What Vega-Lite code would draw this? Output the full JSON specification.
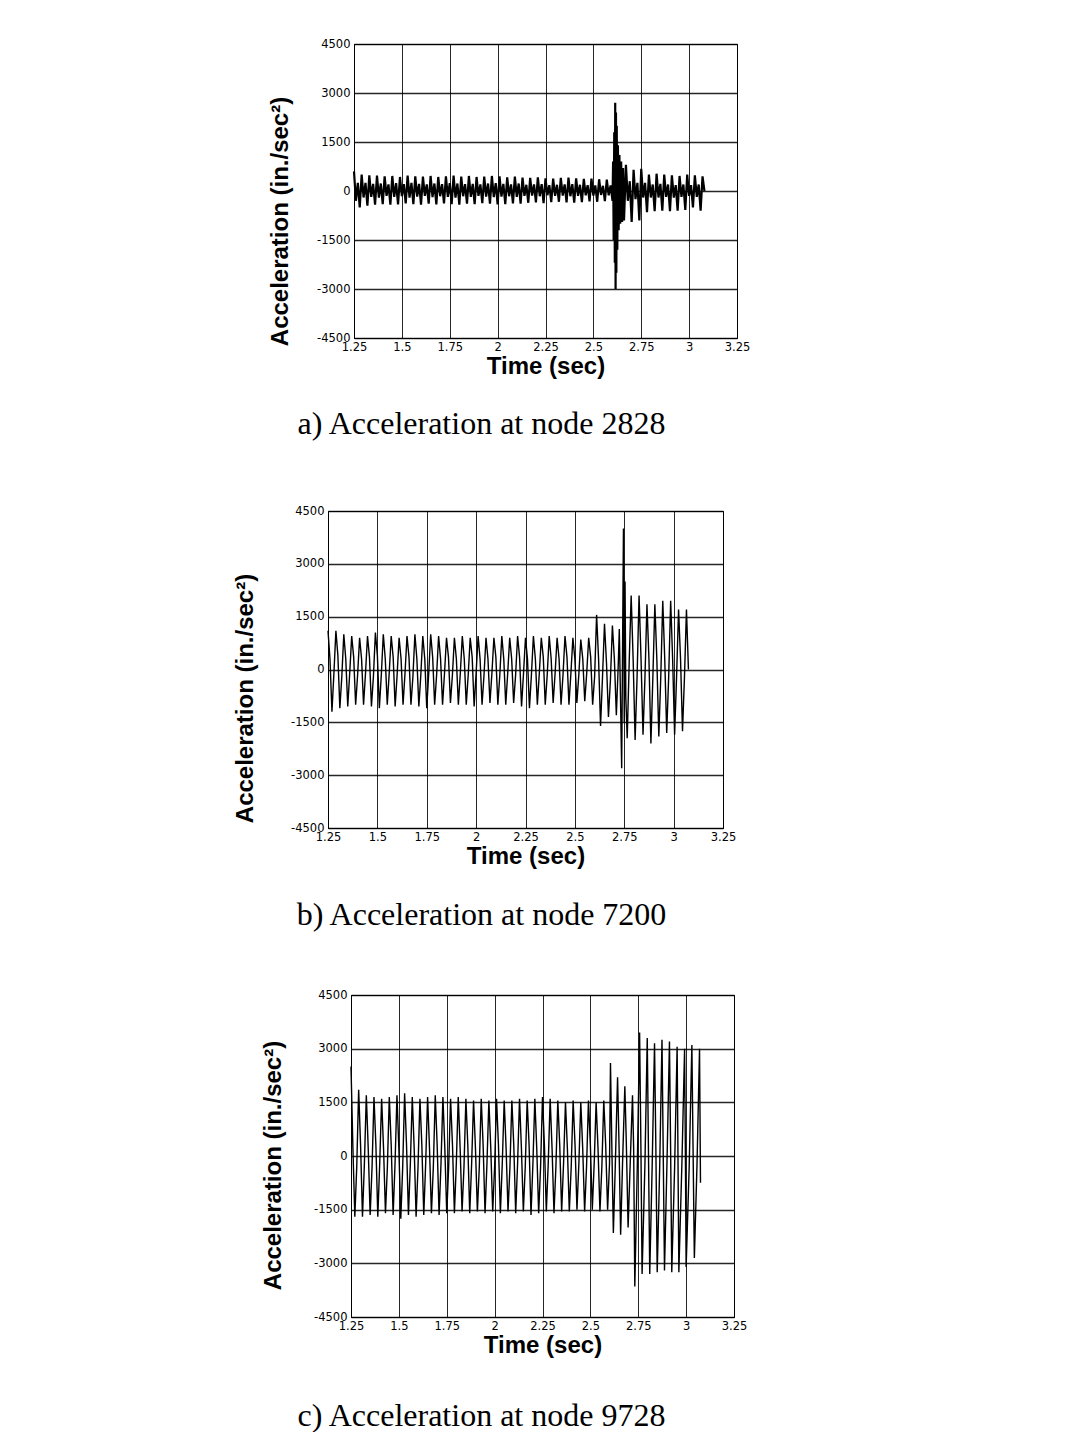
{
"$schema": "https://vega.github.io/schema/vega-lite/v6.json",
"background": "white",
"padding": {"left": 0, "top": 37, "right": 0, "bottom": 0},
"spacing": 57,
"datasets": {
"a": [
{"t":1.25,"v":600},{"t":1.26,"v":-300},{"t":1.27,"v":250},{"t":1.28,"v":-500},
{"t":1.29,"v":500},{"t":1.30,"v":-200},{"t":1.31,"v":250},{"t":1.32,"v":-450},
{"t":1.33,"v":480},{"t":1.34,"v":-180},{"t":1.35,"v":220},{"t":1.36,"v":-420},
{"t":1.37,"v":470},{"t":1.38,"v":-200},{"t":1.39,"v":230},{"t":1.40,"v":-400},
{"t":1.41,"v":450},{"t":1.42,"v":-150},{"t":1.43,"v":200},{"t":1.44,"v":-420},
{"t":1.45,"v":460},{"t":1.46,"v":-180},{"t":1.47,"v":240},{"t":1.48,"v":-410},
{"t":1.49,"v":430},{"t":1.50,"v":-160},{"t":1.51,"v":210},{"t":1.52,"v":-380},
{"t":1.53,"v":470},{"t":1.54,"v":-200},{"t":1.55,"v":250},{"t":1.56,"v":-400},
{"t":1.57,"v":450},{"t":1.58,"v":-170},{"t":1.59,"v":220},{"t":1.60,"v":-420},
{"t":1.61,"v":440},{"t":1.62,"v":-150},{"t":1.63,"v":200},{"t":1.64,"v":-390},
{"t":1.65,"v":460},{"t":1.66,"v":-190},{"t":1.67,"v":230},{"t":1.68,"v":-410},
{"t":1.69,"v":430},{"t":1.70,"v":-160},{"t":1.71,"v":210},{"t":1.72,"v":-380},
{"t":1.73,"v":450},{"t":1.74,"v":-180},{"t":1.75,"v":240},{"t":1.76,"v":-400},
{"t":1.77,"v":470},{"t":1.78,"v":-200},{"t":1.79,"v":230},{"t":1.80,"v":-420},
{"t":1.81,"v":440},{"t":1.82,"v":-160},{"t":1.83,"v":210},{"t":1.84,"v":-390},
{"t":1.85,"v":460},{"t":1.86,"v":-180},{"t":1.87,"v":220},{"t":1.88,"v":-400},
{"t":1.89,"v":430},{"t":1.90,"v":-150},{"t":1.91,"v":200},{"t":1.92,"v":-370},
{"t":1.93,"v":440},{"t":1.94,"v":-170},{"t":1.95,"v":230},{"t":1.96,"v":-390},
{"t":1.97,"v":460},{"t":1.98,"v":-190},{"t":1.99,"v":240},{"t":2.00,"v":-410},
{"t":2.01,"v":450},{"t":2.02,"v":-170},{"t":2.03,"v":220},{"t":2.04,"v":-400},
{"t":2.05,"v":420},{"t":2.06,"v":-160},{"t":2.07,"v":200},{"t":2.08,"v":-380},
{"t":2.09,"v":440},{"t":2.10,"v":-180},{"t":2.11,"v":230},{"t":2.12,"v":-390},
{"t":2.13,"v":410},{"t":2.14,"v":-150},{"t":2.15,"v":190},{"t":2.16,"v":-360},
{"t":2.17,"v":400},{"t":2.18,"v":-140},{"t":2.19,"v":200},{"t":2.20,"v":-350},
{"t":2.21,"v":420},{"t":2.22,"v":-160},{"t":2.23,"v":210},{"t":2.24,"v":-370},
{"t":2.25,"v":390},{"t":2.26,"v":-130},{"t":2.27,"v":180},{"t":2.28,"v":-340},
{"t":2.29,"v":380},{"t":2.30,"v":-150},{"t":2.31,"v":190},{"t":2.32,"v":-330},
{"t":2.33,"v":400},{"t":2.34,"v":-140},{"t":2.35,"v":200},{"t":2.36,"v":-350},
{"t":2.37,"v":410},{"t":2.38,"v":-160},{"t":2.39,"v":210},{"t":2.40,"v":-360},
{"t":2.41,"v":390},{"t":2.42,"v":-150},{"t":2.43,"v":190},{"t":2.44,"v":-340},
{"t":2.45,"v":370},{"t":2.46,"v":-130},{"t":2.47,"v":180},{"t":2.48,"v":-320},
{"t":2.49,"v":380},{"t":2.50,"v":-140},{"t":2.51,"v":170},{"t":2.52,"v":-330},
{"t":2.53,"v":360},{"t":2.54,"v":-120},{"t":2.55,"v":160},{"t":2.56,"v":-310},
{"t":2.57,"v":350},{"t":2.58,"v":-130},{"t":2.59,"v":170},{"t":2.60,"v":-300},
{"t":2.603,"v":900},{"t":2.606,"v":-1500},{"t":2.609,"v":1800},{"t":2.612,"v":-2200},
{"t":2.614,"v":2700},{"t":2.616,"v":-3000},{"t":2.618,"v":2400},{"t":2.620,"v":-2500},
{"t":2.622,"v":2000},{"t":2.625,"v":-1800},{"t":2.628,"v":1400},{"t":2.632,"v":-1200},
{"t":2.636,"v":1100},{"t":2.640,"v":-1000},{"t":2.645,"v":900},{"t":2.650,"v":-950},
{"t":2.655,"v":700},{"t":2.660,"v":-900},
{"t":2.67,"v":800},{"t":2.68,"v":-300},{"t":2.69,"v":300},{"t":2.70,"v":-950},
{"t":2.71,"v":650},{"t":2.72,"v":-250},{"t":2.73,"v":250},{"t":2.74,"v":-900},
{"t":2.75,"v":680},{"t":2.76,"v":-200},{"t":2.77,"v":250},{"t":2.78,"v":-650},
{"t":2.79,"v":500},{"t":2.80,"v":-200},{"t":2.81,"v":200},{"t":2.82,"v":-620},
{"t":2.83,"v":530},{"t":2.84,"v":-200},{"t":2.85,"v":220},{"t":2.86,"v":-600},
{"t":2.87,"v":500},{"t":2.88,"v":-180},{"t":2.89,"v":200},{"t":2.90,"v":-620},
{"t":2.91,"v":480},{"t":2.92,"v":-200},{"t":2.93,"v":180},{"t":2.94,"v":-600},
{"t":2.95,"v":460},{"t":2.96,"v":-180},{"t":2.97,"v":200},{"t":2.98,"v":-580},
{"t":2.99,"v":500},{"t":3.00,"v":-150},{"t":3.01,"v":180},{"t":3.02,"v":-500},
{"t":3.03,"v":480},{"t":3.04,"v":-180},{"t":3.05,"v":200},{"t":3.06,"v":-600},
{"t":3.07,"v":450},{"t":3.08,"v":0}
],
"b": [
{"t":1.25,"v":1100},{"t":1.26,"v":300},{"t":1.27,"v":-1200},{"t":1.28,"v":-100},
{"t":1.29,"v":1100},{"t":1.30,"v":400},{"t":1.31,"v":-1100},{"t":1.32,"v":-200},
{"t":1.33,"v":1000},{"t":1.34,"v":300},{"t":1.35,"v":-1050},{"t":1.36,"v":-100},
{"t":1.37,"v":950},{"t":1.38,"v":350},{"t":1.39,"v":-1000},{"t":1.40,"v":-150},
{"t":1.41,"v":900},{"t":1.42,"v":300},{"t":1.43,"v":-1000},{"t":1.44,"v":-100},
{"t":1.45,"v":950},{"t":1.46,"v":350},{"t":1.47,"v":-1050},{"t":1.48,"v":-200},
{"t":1.49,"v":1050},{"t":1.50,"v":400},{"t":1.51,"v":-1100},{"t":1.52,"v":-150},
{"t":1.53,"v":1000},{"t":1.54,"v":300},{"t":1.55,"v":-1000},{"t":1.56,"v":-100},
{"t":1.57,"v":950},{"t":1.58,"v":350},{"t":1.59,"v":-1050},{"t":1.60,"v":-150},
{"t":1.61,"v":900},{"t":1.62,"v":300},{"t":1.63,"v":-1000},{"t":1.64,"v":-100},
{"t":1.65,"v":950},{"t":1.66,"v":350},{"t":1.67,"v":-1000},{"t":1.68,"v":-200},
{"t":1.69,"v":1000},{"t":1.70,"v":300},{"t":1.71,"v":-1050},{"t":1.72,"v":-150},
{"t":1.73,"v":950},{"t":1.74,"v":300},{"t":1.75,"v":-1100},{"t":1.76,"v":-100},
{"t":1.77,"v":1000},{"t":1.78,"v":350},{"t":1.79,"v":-1000},{"t":1.80,"v":-150},
{"t":1.81,"v":950},{"t":1.82,"v":300},{"t":1.83,"v":-1000},{"t":1.84,"v":-100},
{"t":1.85,"v":900},{"t":1.86,"v":350},{"t":1.87,"v":-950},{"t":1.88,"v":-150},
{"t":1.89,"v":900},{"t":1.90,"v":300},{"t":1.91,"v":-1000},{"t":1.92,"v":-100},
{"t":1.93,"v":950},{"t":1.94,"v":300},{"t":1.95,"v":-1000},{"t":1.96,"v":-150},
{"t":1.97,"v":900},{"t":1.98,"v":350},{"t":1.99,"v":-1050},{"t":2.00,"v":-100},
{"t":2.01,"v":950},{"t":2.02,"v":300},{"t":2.03,"v":-1000},{"t":2.04,"v":-150},
{"t":2.05,"v":900},{"t":2.06,"v":300},{"t":2.07,"v":-950},{"t":2.08,"v":-100},
{"t":2.09,"v":900},{"t":2.10,"v":350},{"t":2.11,"v":-1000},{"t":2.12,"v":-150},
{"t":2.13,"v":950},{"t":2.14,"v":300},{"t":2.15,"v":-1000},{"t":2.16,"v":-100},
{"t":2.17,"v":900},{"t":2.18,"v":300},{"t":2.19,"v":-950},{"t":2.20,"v":-150},
{"t":2.21,"v":950},{"t":2.22,"v":350},{"t":2.23,"v":-1050},{"t":2.24,"v":-100},
{"t":2.25,"v":900},{"t":2.26,"v":300},{"t":2.27,"v":-1100},{"t":2.28,"v":-150},
{"t":2.29,"v":950},{"t":2.30,"v":300},{"t":2.31,"v":-1000},{"t":2.32,"v":-100},
{"t":2.33,"v":900},{"t":2.34,"v":350},{"t":2.35,"v":-1000},{"t":2.36,"v":-150},
{"t":2.37,"v":950},{"t":2.38,"v":300},{"t":2.39,"v":-950},{"t":2.40,"v":-100},
{"t":2.41,"v":900},{"t":2.42,"v":300},{"t":2.43,"v":-1000},{"t":2.44,"v":-150},
{"t":2.45,"v":950},{"t":2.46,"v":350},{"t":2.47,"v":-1000},{"t":2.48,"v":-100},
{"t":2.49,"v":900},{"t":2.50,"v":300},{"t":2.51,"v":-950},{"t":2.52,"v":-150},
{"t":2.53,"v":850},{"t":2.54,"v":300},{"t":2.55,"v":-900},{"t":2.56,"v":-100},
{"t":2.57,"v":900},{"t":2.58,"v":350},{"t":2.59,"v":-1000},{"t":2.60,"v":-200},
{"t":2.61,"v":1550},{"t":2.62,"v":300},{"t":2.63,"v":-1600},{"t":2.64,"v":-200},
{"t":2.65,"v":1300},{"t":2.66,"v":200},{"t":2.67,"v":-1350},{"t":2.68,"v":-300},
{"t":2.69,"v":1250},{"t":2.70,"v":300},{"t":2.71,"v":-1300},{"t":2.72,"v":200},
{"t":2.725,"v":1150},{"t":2.73,"v":-500},{"t":2.737,"v":-2800},{"t":2.742,"v":1000},
{"t":2.746,"v":4000},{"t":2.75,"v":-1500},{"t":2.754,"v":2500},{"t":2.758,"v":-800},
{"t":2.765,"v":-1950},{"t":2.775,"v":200},{"t":2.785,"v":2100},{"t":2.795,"v":300},
{"t":2.805,"v":-2000},{"t":2.815,"v":-200},{"t":2.825,"v":2100},{"t":2.835,"v":300},
{"t":2.845,"v":-1850},{"t":2.855,"v":-200},{"t":2.865,"v":1850},{"t":2.875,"v":300},
{"t":2.885,"v":-2100},{"t":2.895,"v":-200},{"t":2.905,"v":1850},{"t":2.915,"v":300},
{"t":2.925,"v":-1900},{"t":2.935,"v":-200},{"t":2.945,"v":1950},{"t":2.955,"v":300},
{"t":2.965,"v":-1800},{"t":2.975,"v":-200},{"t":2.985,"v":1950},{"t":2.995,"v":300},
{"t":3.005,"v":-1850},{"t":3.015,"v":-200},{"t":3.025,"v":1700},{"t":3.035,"v":300},
{"t":3.045,"v":-1750},{"t":3.055,"v":-200},{"t":3.065,"v":1700},{"t":3.075,"v":0}
],
"c": [
{"t":1.25,"v":2500},{"t":1.26,"v":200},{"t":1.27,"v":-1700},{"t":1.28,"v":-300},
{"t":1.29,"v":1850},{"t":1.30,"v":300},{"t":1.31,"v":-1700},{"t":1.32,"v":-200},
{"t":1.33,"v":1700},{"t":1.34,"v":200},{"t":1.35,"v":-1650},{"t":1.36,"v":-300},
{"t":1.37,"v":1650},{"t":1.38,"v":300},{"t":1.39,"v":-1700},{"t":1.40,"v":-200},
{"t":1.41,"v":1600},{"t":1.42,"v":200},{"t":1.43,"v":-1600},{"t":1.44,"v":-300},
{"t":1.45,"v":1650},{"t":1.46,"v":300},{"t":1.47,"v":-1650},{"t":1.48,"v":-200},
{"t":1.49,"v":1700},{"t":1.50,"v":200},{"t":1.51,"v":-1750},{"t":1.52,"v":-300},
{"t":1.53,"v":1750},{"t":1.54,"v":300},{"t":1.55,"v":-1650},{"t":1.56,"v":-200},
{"t":1.57,"v":1650},{"t":1.58,"v":200},{"t":1.59,"v":-1700},{"t":1.60,"v":-300},
{"t":1.61,"v":1600},{"t":1.62,"v":300},{"t":1.63,"v":-1650},{"t":1.64,"v":-200},
{"t":1.65,"v":1650},{"t":1.66,"v":200},{"t":1.67,"v":-1600},{"t":1.68,"v":-300},
{"t":1.69,"v":1700},{"t":1.70,"v":300},{"t":1.71,"v":-1650},{"t":1.72,"v":-200},
{"t":1.73,"v":1650},{"t":1.74,"v":200},{"t":1.75,"v":-1600},{"t":1.76,"v":-300},
{"t":1.77,"v":1600},{"t":1.78,"v":300},{"t":1.79,"v":-1600},{"t":1.80,"v":-200},
{"t":1.81,"v":1650},{"t":1.82,"v":200},{"t":1.83,"v":-1550},{"t":1.84,"v":-300},
{"t":1.85,"v":1600},{"t":1.86,"v":300},{"t":1.87,"v":-1600},{"t":1.88,"v":-200},
{"t":1.89,"v":1550},{"t":1.90,"v":200},{"t":1.91,"v":-1550},{"t":1.92,"v":-300},
{"t":1.93,"v":1600},{"t":1.94,"v":300},{"t":1.95,"v":-1600},{"t":1.96,"v":-200},
{"t":1.97,"v":1550},{"t":1.98,"v":200},{"t":1.99,"v":-1550},{"t":2.00,"v":-300},
{"t":2.01,"v":1600},{"t":2.02,"v":300},{"t":2.03,"v":-1600},{"t":2.04,"v":-200},
{"t":2.05,"v":1550},{"t":2.06,"v":200},{"t":2.07,"v":-1550},{"t":2.08,"v":-300},
{"t":2.09,"v":1550},{"t":2.10,"v":300},{"t":2.11,"v":-1600},{"t":2.12,"v":-200},
{"t":2.13,"v":1600},{"t":2.14,"v":200},{"t":2.15,"v":-1550},{"t":2.16,"v":-300},
{"t":2.17,"v":1550},{"t":2.18,"v":300},{"t":2.19,"v":-1650},{"t":2.20,"v":-200},
{"t":2.21,"v":1600},{"t":2.22,"v":200},{"t":2.23,"v":-1600},{"t":2.24,"v":-300},
{"t":2.25,"v":1650},{"t":2.26,"v":300},{"t":2.27,"v":-1550},{"t":2.28,"v":-200},
{"t":2.29,"v":1600},{"t":2.30,"v":200},{"t":2.31,"v":-1600},{"t":2.32,"v":-300},
{"t":2.33,"v":1550},{"t":2.34,"v":300},{"t":2.35,"v":-1550},{"t":2.36,"v":-200},
{"t":2.37,"v":1500},{"t":2.38,"v":200},{"t":2.39,"v":-1550},{"t":2.40,"v":-300},
{"t":2.41,"v":1550},{"t":2.42,"v":300},{"t":2.43,"v":-1500},{"t":2.44,"v":-200},
{"t":2.45,"v":1500},{"t":2.46,"v":200},{"t":2.47,"v":-1550},{"t":2.48,"v":-300},
{"t":2.49,"v":1550},{"t":2.50,"v":300},{"t":2.51,"v":-1500},{"t":2.52,"v":-200},
{"t":2.53,"v":1500},{"t":2.54,"v":200},{"t":2.55,"v":-1550},{"t":2.56,"v":-300},
{"t":2.57,"v":1550},{"t":2.58,"v":300},{"t":2.59,"v":-1500},{"t":2.60,"v":-200},
{"t":2.605,"v":2600},{"t":2.612,"v":300},{"t":2.62,"v":-2150},{"t":2.63,"v":-300},
{"t":2.642,"v":2200},{"t":2.65,"v":200},{"t":2.658,"v":-2200},{"t":2.668,"v":-200},
{"t":2.68,"v":1950},{"t":2.688,"v":300},{"t":2.697,"v":-2000},{"t":2.708,"v":-200},
{"t":2.72,"v":1700},{"t":2.726,"v":200},{"t":2.732,"v":-3650},{"t":2.745,"v":-300},
{"t":2.757,"v":3450},{"t":2.764,"v":200},{"t":2.77,"v":-3300},{"t":2.785,"v":-200},
{"t":2.797,"v":3300},{"t":2.803,"v":300},{"t":2.81,"v":-3300},{"t":2.823,"v":-200},
{"t":2.835,"v":3150},{"t":2.842,"v":200},{"t":2.849,"v":-3250},{"t":2.862,"v":-300},
{"t":2.874,"v":3250},{"t":2.88,"v":300},{"t":2.887,"v":-3200},{"t":2.9,"v":-200},
{"t":2.913,"v":3200},{"t":2.919,"v":200},{"t":2.925,"v":-3250},{"t":2.94,"v":-300},
{"t":2.953,"v":3050},{"t":2.957,"v":300},{"t":2.962,"v":-3250},{"t":2.978,"v":-200},
{"t":2.992,"v":3000},{"t":2.996,"v":200},{"t":3.0,"v":-3100},{"t":3.016,"v":-300},
{"t":3.03,"v":3100},{"t":3.036,"v":300},{"t":3.043,"v":-2850},{"t":3.057,"v":-200},
{"t":3.07,"v":3000},{"t":3.075,"v":-750}
]
},
"vconcat": [
{"spacing": 0, "hconcat": [
 {"width": 268, "height": 10, "data": {"values": [{"s": ""}]}, "mark": "text", "encoding": {"text": {"field": "s"}}, "view": {"stroke": null}},
 {"width": 383, "height": 294, "data": {"name": "a"},
  "mark": {"type": "line", "color": "black", "strokeWidth": 2.2},
  "encoding": {
   "x": {"field": "t", "type": "quantitative", "scale": {"domain": [1.25, 3.25], "nice": false, "zero": false},
     "axis": {"values": [1.25,1.5,1.75,2,2.25,2.5,2.75,3,3.25], "title": "Time (sec)"}},
   "y": {"field": "v", "type": "quantitative", "scale": {"domain": [-4500, 4500], "nice": false},
     "axis": {"values": [-4500,-3000,-1500,0,1500,3000,4500], "title": "Acceleration (in./sec²)", "titlePadding": 24, "titleY": 177}}
  },
  "title": {"text": "a) Acceleration at node 2828", "subtitle": " ", "subtitleFontSize": 6, "subtitlePadding": 0, "dx": -64, "offset": 30}
 }
]},
{"spacing": 0, "hconcat": [
 {"width": 233, "height": 10, "data": {"values": [{"s": ""}]}, "mark": "text", "encoding": {"text": {"field": "s"}}, "view": {"stroke": null}},
 {"width": 395, "height": 317, "data": {"name": "b"},
  "mark": {"type": "line", "color": "black", "strokeWidth": 1.4},
  "encoding": {
   "x": {"field": "t", "type": "quantitative", "scale": {"domain": [1.25, 3.25], "nice": false, "zero": false},
     "axis": {"values": [1.25,1.5,1.75,2,2.25,2.5,2.75,3,3.25], "title": "Time (sec)"}},
   "y": {"field": "v", "type": "quantitative", "scale": {"domain": [-4500, 4500], "nice": false},
     "axis": {"values": [-4500,-3000,-1500,0,1500,3000,4500], "title": "Acceleration (in./sec²)", "titlePadding": 33, "titleY": 187}}
  },
  "title": {"text": "b) Acceleration at node 7200", "dx": -44, "offset": 31}
 }
]},
{"spacing": 0, "hconcat": [
 {"width": 261, "height": 10, "data": {"values": [{"s": ""}]}, "mark": "text", "encoding": {"text": {"field": "s"}}, "view": {"stroke": null}},
 {"width": 383, "height": 322, "data": {"name": "c"},
  "mark": {"type": "line", "color": "black", "strokeWidth": 1.4},
  "encoding": {
   "x": {"field": "t", "type": "quantitative", "scale": {"domain": [1.25, 3.25], "nice": false, "zero": false},
     "axis": {"values": [1.25,1.5,1.75,2,2.25,2.5,2.75,3,3.25], "title": "Time (sec)"}},
   "y": {"field": "v", "type": "quantitative", "scale": {"domain": [-4500, 4500], "nice": false},
     "axis": {"values": [-4500,-3000,-1500,0,1500,3000,4500], "title": "Acceleration (in./sec²)", "titlePadding": 28, "titleY": 170}}
  },
  "title": {"text": "c) Acceleration at node 9728", "dx": -61, "offset": 43}
 }
]}
],
"config": {
 "view": {"stroke": "black", "strokeWidth": 1},
 "axis": {"grid": true, "gridColor": "black", "gridOpacity": 0.85, "domain": true, "domainColor": "black",
   "ticks": false, "tickSize": 0, "labelFont": "DejaVu Sans", "labelFontSize": 11.5, "labelColor": "black",
   "labelFlush": false, "labelOverlap": false, "labelExpr": "'' + datum.value",
   "titleFont": "Liberation Sans", "titleFontSize": 24, "titleFontWeight": "bold", "titleColor": "black"},
 "axisX": {"gridWidth": 1, "labelPadding": 3, "titlePadding": 2},
 "axisY": {"gridWidth": 1.5, "labelPadding": 4},
 "title": {"font": "Liberation Serif", "fontSize": 32, "fontWeight": "normal", "color": "black", "orient": "bottom", "anchor": "middle", "frame": "group"}
}
}
